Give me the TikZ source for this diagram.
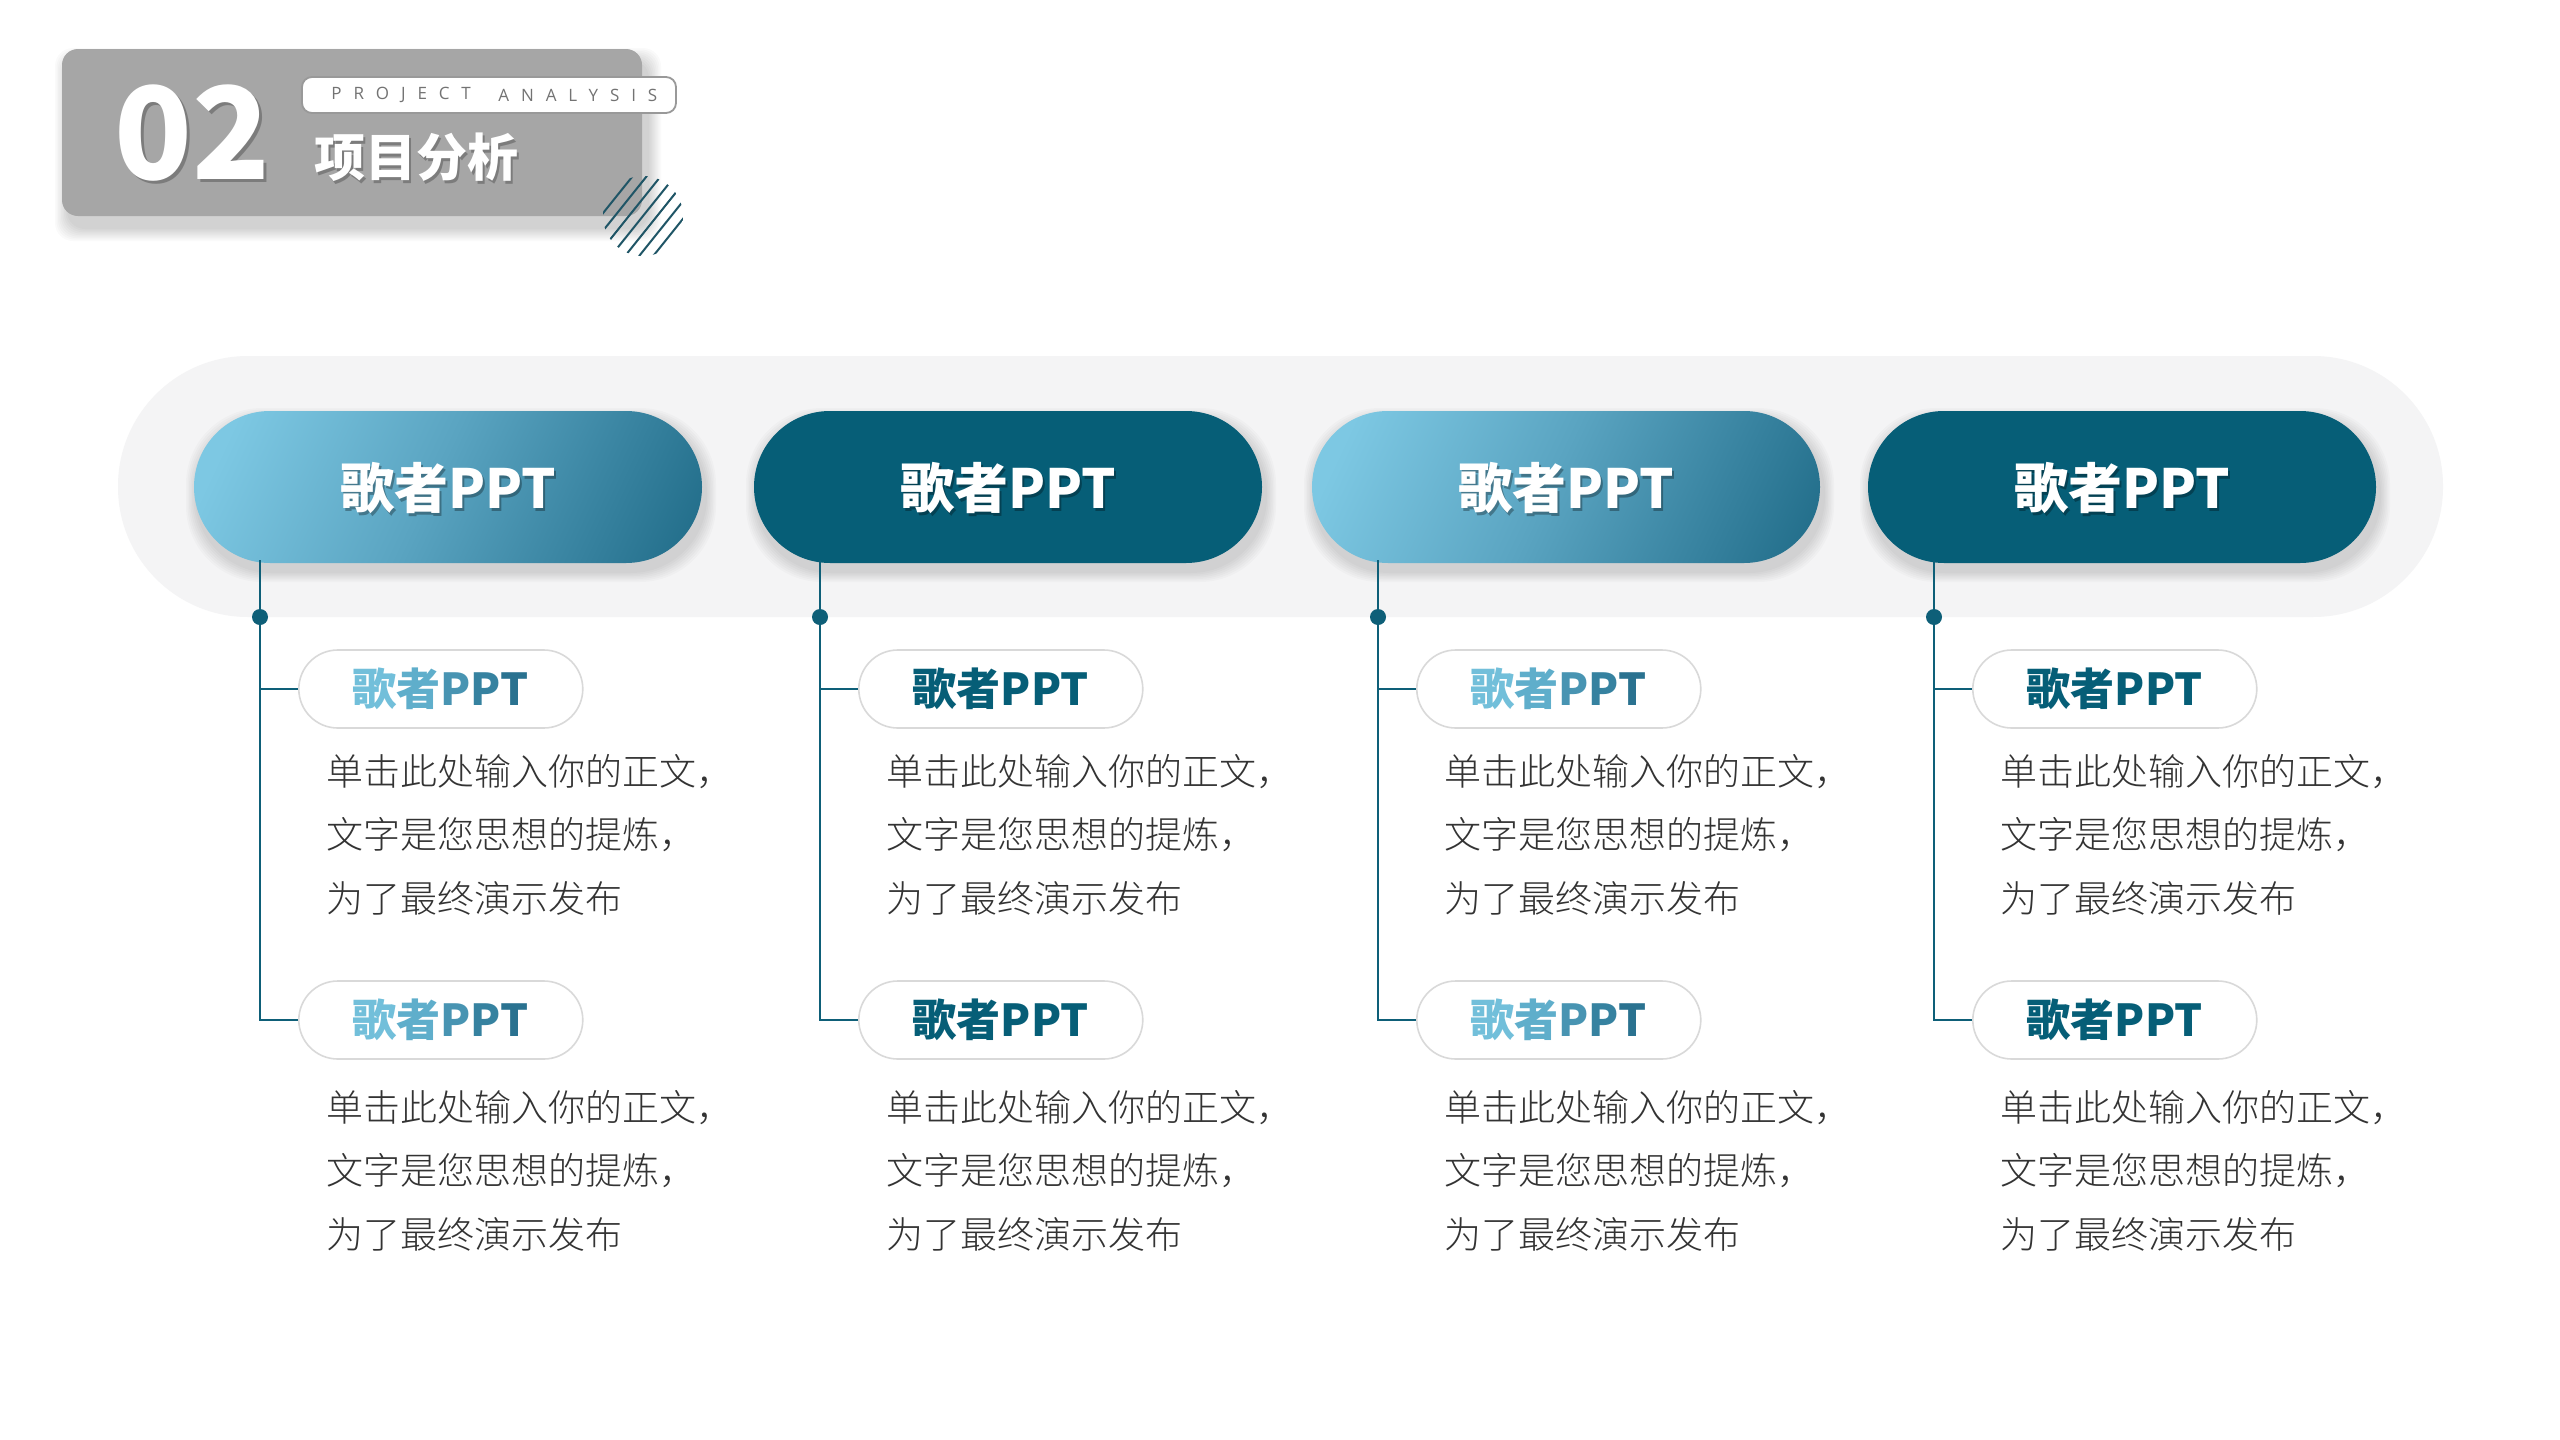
\documentclass[tikz,border=0pt]{standalone}
\usepackage{fontspec}
\setmainfont{Noto Sans CJK SC}
\newfontfamily\cjklight{Noto Sans CJK SC Light}
\newfontfamily\latinsans{Open Sans}[LetterSpace=70]
\usetikzlibrary{calc}
\definecolor{bandgray}{HTML}{F4F4F5}
\definecolor{darkteal}{HTML}{065E77}
\definecolor{gradA}{HTML}{7DC8E3}
\definecolor{gradM}{HTML}{5AA4C1}
\definecolor{gradN}{HTML}{35809D}
\definecolor{gradB}{HTML}{17637F}
\definecolor{lineteal}{HTML}{0E5F78}
\definecolor{subborder}{HTML}{D9D9D9}
\definecolor{bodygray}{HTML}{333333}
\definecolor{headgray}{HTML}{A6A6A6}
\definecolor{hatchcol}{HTML}{1F5566}
\definecolor{tA}{HTML}{72BFDA}
\definecolor{tB}{HTML}{5FAECB}
\definecolor{tC}{HTML}{4894B2}
\definecolor{tD}{HTML}{3682A0}
\definecolor{tE}{HTML}{2A7290}
\pgfdeclarehorizontalshading{pillgrad}{100bp}{color(0bp)=(gradA); color(22bp)=(gradA); color(48bp)=(gradM); color(70bp)=(gradN); color(88bp)=(gradB); color(100bp)=(gradB)}
\newcommand{\sublabelgrad}{{\color{tA}歌\color{tB}者\color{tC}P\color{tD}P\color{tE}T}}
\newcommand{\sublabeldark}{{\color{darkteal}歌者PPT}}
\tikzset{
  big pill/.style={rounded corners=38pt, minimum width=254pt, minimum height=76pt, inner sep=0pt},
  dark pill/.style={big pill, fill=darkteal},
  grad pill/.style={big pill, shade, shading=pillgrad, shading angle=-25},
  softshadow/.style={fill=black, opacity=0.02},
  pill text/.style={text=white, font=\fontsize{27pt}{30pt}\selectfont\bfseries, inner sep=0pt},
  pill text shadow/.style={text=black, opacity=0.3, font=\fontsize{27pt}{30pt}\selectfont\bfseries, inner sep=0pt},
  sub pill/.style={draw=subborder, line width=0.8pt, fill=white, rounded corners=19.5pt,
    minimum width=142pt, minimum height=39pt, inner sep=0pt, font=\fontsize{22pt}{24pt}\selectfont\bfseries},
  conn/.style={draw=lineteal, line width=0.8pt},
  dotnode/.style={circle, fill=lineteal, minimum size=8pt, inner sep=0pt},
  body/.style={text=bodygray, font=\cjklight\fontsize{18.5pt}{20pt}\selectfont, anchor=west, inner sep=0pt},
  hatch/.style={draw=hatchcol, line width=1pt},
  projtext/.style={text=gray!90!black, font=\latinsans\fontsize{8.5pt}{9pt}\selectfont, inner sep=0pt, anchor=west},
}
\begin{document}
\begin{tikzpicture}[x=0.5pt,y=-0.5pt]
\useasboundingbox[fill=white] (0,0) rectangle (2560,1440);

% header shadow
\foreach \s in {2,5,...,26} {
  \fill[softshadow, rounded corners=9pt] (62-\s/2+6,49-\s/2+12) rectangle (642+\s/2+6,216+\s/2+12);
}
\node[fill=headgray, rounded corners=8pt, minimum width=290pt, minimum height=83.5pt, inner sep=0pt]
  (head) at (352,132.5) {};
\node[text=black, opacity=0.25, font=\fontsize{64pt}{70pt}\selectfont\bfseries, inner sep=0pt] (numsh) at (195,136) {02};
\node[text=white, font=\fontsize{64pt}{70pt}\selectfont\bfseries, inner sep=0pt] (num) at (192,133) {02};
\node[draw=gray!80, fill=white, line width=0.9pt, rounded corners=5pt, minimum width=187pt, minimum height=18pt, inner sep=0pt]
  (projbox) at (489,95) {};
\node[projtext] (proj1) at (331,95) {PROJECT};
\node[projtext] (proj2) at (498,95) {ANALYSIS};
\node[text=black, opacity=0.25, font=\fontsize{25.5pt}{28pt}\selectfont\bfseries, inner sep=0pt] (titlesh) at (418,160) {项目分析};
\node[text=white, font=\fontsize{25.5pt}{28pt}\selectfont\bfseries, inner sep=0pt] (title) at (416,157) {项目分析};
\begin{scope}
  \clip (643,216) circle (40);
  \foreach \k in {-4,...,4} {
    \draw[hatch] ({643+\k*11*0.78-70*0.625},{216+\k*11*0.625+70*0.78}) -- ({643+\k*11*0.78+70*0.625},{216+\k*11*0.625-70*0.78});
  }
\end{scope}

% band
\fill[bandgray, rounded corners=65pt] (118,356) rectangle (2443,617);

\foreach \i/\cx/\kind in {1/448/grad, 2/1008/dark, 3/1566/grad, 4/2122/dark} {
  \pgfmathsetmacro{\lx}{\cx-188}
  \foreach \s in {4,7,...,22} {
    \fill[softshadow, rounded corners=38pt] (\cx-254-\s/2+3,411-\s/2+8) rectangle (\cx+254+\s/2+3,563+\s/2+8);
  }
  \node[\kind\space pill] (p\i) at (\cx,487) {};
  \node[pill text shadow] (ps\i) at (\cx+2,491) {歌者PPT};
  \node[pill text] (pt\i) at (\cx,488) {歌者PPT};
  \coordinate (t\i) at (\lx,560);
  \node[sub pill, anchor=west] (sa\i) at (\lx+38,689) {\csname sublabel\kind\endcsname};
  \node[sub pill, anchor=west] (sb\i) at (\lx+38,1020) {\csname sublabel\kind\endcsname};
  \draw[conn] (t\i) |- (sb\i.west);
  \draw[conn] (t\i |- sa\i.west) -- (sa\i.west);
  \node[dotnode] (d\i) at (\lx,617) {};
  \node[body] (a1\i) at (\lx+66,772) {单击此处输入你的正文，};
  \node[body] (a2\i) at (\lx+66,835) {文字是您思想的提炼，};
  \node[body] (a3\i) at (\lx+66,898) {为了最终演示发布};
  \node[body] (b1\i) at (\lx+66,1108) {单击此处输入你的正文，};
  \node[body] (b2\i) at (\lx+66,1171) {文字是您思想的提炼，};
  \node[body] (b3\i) at (\lx+66,1234) {为了最终演示发布};
}
\end{tikzpicture}
\end{document}
